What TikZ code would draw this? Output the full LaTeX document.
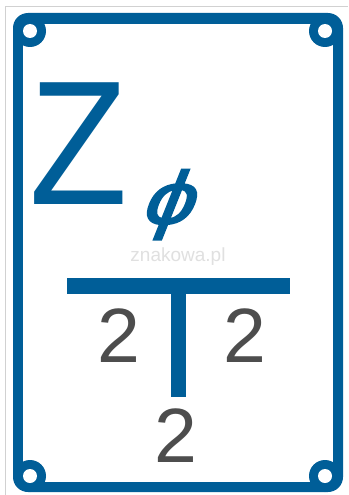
\documentclass[tikz,border=0pt]{standalone}
\usepackage{fontspec}
\setmainfont{Liberation Sans}
\newfontfamily\zetfont[FakeStretch=0.91]{Liberation Sans}
\newfontfamily\phifont[FakeSlant=0.4, FakeStretch=1.22, FakeBold=2.6]{Liberation Sans}
\definecolor{signblue}{RGB}{0,94,152}
\definecolor{signgray}{RGB}{77,77,77}

\begin{document}
\begin{tikzpicture}[x=1pt, y=-1pt,
  digit/.style={anchor=base, inner sep=0pt, text=signgray, font=\fontsize{77}{77}\selectfont}]
  \useasboundingbox (0,0) rectangle (348,495);
  \fill[white] (0,0) rectangle (348,495);
  %% photo edge
  \draw[black!18, line width=1pt] (5,495) -- (5,7) -- (348,7);

  %% plate frame with corner holes
  \fill[signblue, rounded corners=15pt] (13,13) rectangle (343,492);
  \fill[white] (23,24) rectangle (333,482);
  \foreach \hx/\hy in {30/31, 325/31, 30/476, 325/476} {
    \fill[signblue] (\hx,\hy) circle (16pt);
    \fill[white] (\hx,\hy) circle (7pt);
  }

  %% title
  \node[anchor=base, inner sep=0pt, text=signblue, font=\zetfont\fontsize{177}{177}\selectfont] (zet) at (79,204) {Z};
  \node[anchor=base, inner sep=0pt, text=signblue, font=\phifont\fontsize{75}{75}\selectfont] (phi) at (164,224) {ϕ};
  \node[inner sep=0pt, text=black!12, font=\fontsize{19}{19}\selectfont] (mark) at (178,257) {znakowa.pl};

  %% tee
  \fill[signblue] (67,278) rectangle (290,294);
  \fill[signblue] (171,294) rectangle (186,397);

  %% numbers
  \node[digit] (left) at (118.5,362) {2};
  \node[digit] (right) at (245,362) {2};
  \node[digit] (bottom) at (176,462) {2};
\end{tikzpicture}
\end{document}
